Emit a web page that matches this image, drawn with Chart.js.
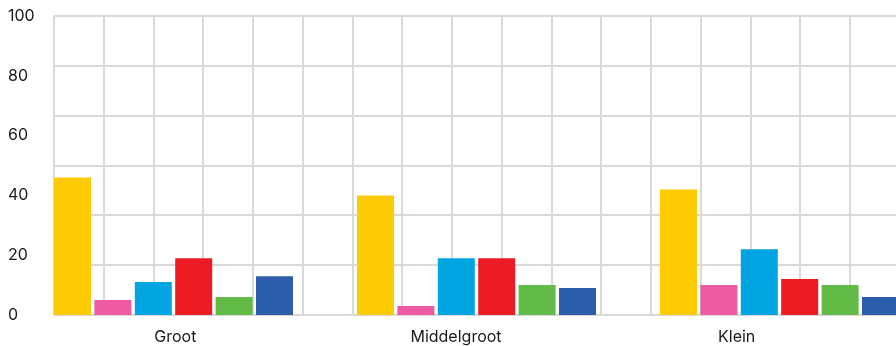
<!DOCTYPE html>
<html>
<head>
<meta charset="utf-8">
<script src="https://cdn.jsdelivr.net/npm/chart.js@4/dist/chart.umd.min.js"></script>
<style>
  html, body { margin: 0; padding: 0; background: #fff; }
  #wrap { width: 896px; height: 346px; position: relative; }
</style>
</head>
<body>
<div id="wrap"><canvas id="chart"></canvas></div>
<script>
var categories = ['Groot', 'Middelgroot', 'Klein'];
var yTicks = [0, 20, 40, 60, 80, 100];

var seriesColors = ['#FFCB05', '#EF5BA1', '#00A5E2', '#ED1C24', '#62BB46', '#2B5DAA'];
var serie1 = [46, 40, 42];
var serie2 = [5, 3, 10];
var serie3 = [11, 19, 22];
var serie4 = [19, 19, 12];
var serie5 = [6, 10, 10];
var serie6 = [13, 9, 6];
var allSeries = [serie1, serie2, serie3, serie4, serie5, serie6];

var gridColor = '#d9d9d9';
var textColor = '#1a1a1a';
var labelFont = { family: 'Inter', size: 16 };

function toPoints(values) {
  return values.map(function(v, i) { return { x: i, y: v }; });
}

// background grid of squares, one tick per whole unit
function wholeTicks(scale) {
  var out = [];
  for (var v = 0; v <= Math.floor(scale.max); v++) out.push({ value: v });
  scale.ticks = out;
}

var datasets = allSeries.map(function(values, i) {
  return {
    data: toPoints(values),
    backgroundColor: seriesColors[i],
    borderWidth: 0,
    categoryPercentage: 0.8,
    barPercentage: 0.916
  };
});

new Chart(document.getElementById('chart'), {
  type: 'bar',
  data: { labels: categories, datasets: datasets },
  options: {
    responsive: true,
    maintainAspectRatio: false,
    animation: false,
    layout: { padding: { left: 8, top: 16, right: 0, bottom: 0 } },
    plugins: { legend: { display: false }, tooltip: { enabled: false } },
    scales: {
      // bar positions
      x: {
        type: 'linear',
        bounds: 'data',
        offset: false,
        min: -0.3944,
        max: 2.3845,
        grid: { display: false, drawTicks: false, offset: false },
        border: { display: false },
        afterBuildTicks: function(scale) {
          scale.ticks = categories.map(function(c, i) { return { value: i }; });
        },
        afterFit: function(scale) { scale.height = 0; },
        ticks: { display: false }
      },
      // category names
      xl: {
        type: 'category',
        position: 'bottom',
        offset: true,
        grid: { display: false, drawTicks: false },
        border: { display: false },
        afterFit: function(scale) { scale.height = 31; },
        ticks: {
          autoSkip: false,
          maxRotation: 0,
          padding: 13,
          labelOffset: -19,
          color: textColor,
          font: labelFont
        }
      },
      y: {
        type: 'linear',
        min: 0,
        max: 100,
        grid: { display: false, drawTicks: false },
        border: { display: false },
        afterBuildTicks: function(scale) {
          scale.ticks = yTicks.map(function(v) { return { value: v }; });
        },
        afterFit: function(scale) { scale.width = 46; },
        ticks: {
          crossAlign: 'far',
          color: textColor,
          font: labelFont
        }
      },
      gx: {
        type: 'linear',
        position: 'top',
        bounds: 'data',
        offset: false,
        min: 0,
        max: 16.92,
        afterBuildTicks: wholeTicks,
        afterFit: function(scale) { scale.height = 0; },
        ticks: { display: false },
        grid: { color: gridColor, lineWidth: 2, drawTicks: false, offset: false },
        border: { display: false }
      },
      gy: {
        type: 'linear',
        position: 'left',
        bounds: 'data',
        min: 0,
        max: 6,
        afterBuildTicks: wholeTicks,
        afterFit: function(scale) { scale.width = 0; },
        ticks: { display: false },
        grid: { color: gridColor, lineWidth: 2, drawTicks: false },
        border: { display: false }
      }
    }
  }
});
</script>
</body>
</html>
